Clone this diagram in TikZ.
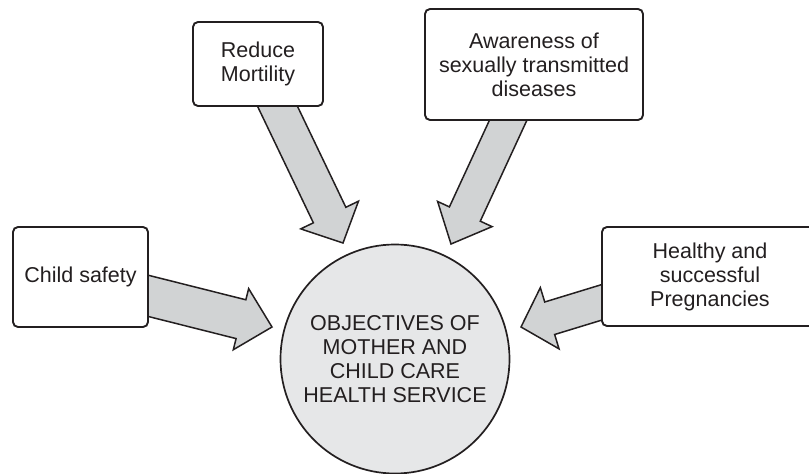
\documentclass[tikz,border=0pt]{standalone}
\usepackage{fontspec}
\setmainfont{Liberation Sans}
\usetikzlibrary{calc,backgrounds}
\definecolor{ink}{HTML}{231F20}
\definecolor{arrowgray}{HTML}{D1D3D4}
\definecolor{circgray}{HTML}{E6E7E8}
\tikzset{
  box/.style={draw=ink, line width=1.9pt, rounded corners=5pt, fill=white, align=center,
    text=ink, font=\fontsize{21.5}{24}\selectfont, inner sep=0pt},
  hub/.style={circle, draw=ink, line width=1.7pt, fill=circgray, align=center,
    text=ink, font=\fontsize{21.5}{24}\selectfont, inner sep=0pt, minimum size=229pt},
  barrow/.style={draw=ink, fill=arrowgray, line width=1.5pt, line join=miter}
}
\newcommand\blockarrow[5]{%
  \coordinate (ba-b) at ($(#2)!#5!(#1)$);
  \filldraw[barrow] ($(#1)!#3!90:(#2)$) -- ($(ba-b)!#3!90:(#2)$) -- ($(ba-b)!#4!90:(#2)$)
    -- (#2) -- ($(ba-b)!#4!-90:(#2)$) -- ($(ba-b)!#3!-90:(#2)$) -- ($(#1)!#3!-90:(#2)$) -- cycle;}
\begin{document}
\begin{tikzpicture}[x=1pt, y=-1pt]
\useasboundingbox (0,0) rectangle (809,474);
\clip (0,0) rectangle (809,474);
\node[hub] (hub) at (395,359) {OBJECTIVES OF\\MOTHER AND\\CHILD CARE\\HEALTH SERVICE};
\node[box, minimum width=135pt, minimum height=100pt] (child) at (80.5,277) {Child safety};
\node[box, minimum width=130pt, minimum height=84pt] (reduce) at (258,64) {Reduce\\Mortility};
\node[box, minimum width=218pt, minimum height=111pt] (aware) at (534,64.5) {Awareness of\\sexually transmitted\\diseases};
\node[box, minimum width=216pt, minimum height=99pt] (healthy) at (710,276.5) {Healthy and\\successful\\Pregnancies};
\coordinate (s1) at ($(child.east)+(-10,16.5)$);
\coordinate (t1) at (272,327);
\coordinate (s2) at ($(reduce.south)+(15.5,-9)$);
\coordinate (t2) at (343,243);
\coordinate (s3) at ($(aware.south)+(-22,-9)$);
\coordinate (t3) at (451,244);
\coordinate (s4) at ($(healthy.west)+(10,23)$);
\coordinate (t4) at (521,327);
\begin{pgfonlayer}{background}
\blockarrow{s1}{t1}{20pt}{31.5pt}{32pt}
\blockarrow{s2}{t2}{18pt}{32pt}{31pt}
\blockarrow{s3}{t3}{17pt}{30pt}{33pt}
\blockarrow{s4}{t4}{17pt}{32pt}{30pt}
\end{pgfonlayer}
\end{tikzpicture}
\end{document}
